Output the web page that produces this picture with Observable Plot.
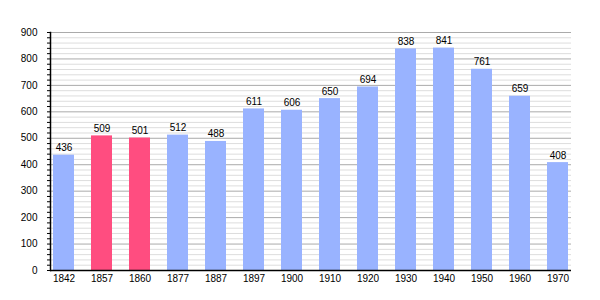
<!DOCTYPE html>
<html><head><meta charset="utf-8">
<script src="https://cdn.jsdelivr.net/npm/d3@7"></script>
<script src="https://cdn.jsdelivr.net/npm/@observablehq/plot@0.6"></script>
<style>body{margin:0;background:#fff}svg{font-family:"Liberation Sans",Arial,sans-serif}</style>
</head><body><div id="chart"></div>
<script>
const years = ["1842","1857","1860","1877","1887","1897","1900","1910","1920","1930","1940","1950","1960","1970"];
const population = [436,509,501,512,488,611,606,650,694,838,841,761,659,408];
const highlighted = ["1857","1860"];
const majorTicks = d3.range(0, 901, 100);
const minorTicks = d3.range(0, 901, 20).filter(v => v % 100 !== 0);

const data = years.map((y, i) => ({year: y, value: population[i], hl: highlighted.includes(y)}));

const chart = Plot.plot({
  width: 600, height: 300,
  marginLeft: 50, marginRight: 29, marginTop: 32, marginBottom: 30,
  style: {fontFamily: "'Liberation Sans', Arial, sans-serif", fontSize: "10px", color: "#000"},
  x: {domain: years, paddingInner: 0.45, paddingOuter: 0, label: null},
  y: {domain: [0, 900], label: null},
  marks: [
    Plot.ruleY(minorTicks, {stroke: "#dddddd", strokeWidth: 1, strokeOpacity: 1}),
    Plot.ruleY(majorTicks, {stroke: "#aaaaaa", strokeWidth: 1, strokeOpacity: 1}),
    Plot.barY(data, {x: "year", y: "value", fill: d => d.hl ? "#ff4d80" : "#99b3ff"}),
    Plot.text(data, {x: "year", y: "value", text: d => String(d.value), lineAnchor: "bottom", dy: -4, fill: "#000", fontSize: 10}),
    Plot.axisY(minorTicks, {tickSize: 3, text: null, stroke: "#000"}),
    Plot.axisY(majorTicks, {tickSize: 3, tickPadding: 10, stroke: "#000", fill: "#000", fontSize: 10, label: null}),
    Plot.axisX({tickSize: 0, tickPadding: 4, fill: "#000", fontSize: 10, label: null}),
    Plot.ruleY([0], {stroke: "#000", strokeWidth: 1.5}),
    Plot.frame({anchor: "left", stroke: "#000", strokeWidth: 1.5})
  ]
});
document.getElementById("chart").appendChild(chart);
</script></body></html>
